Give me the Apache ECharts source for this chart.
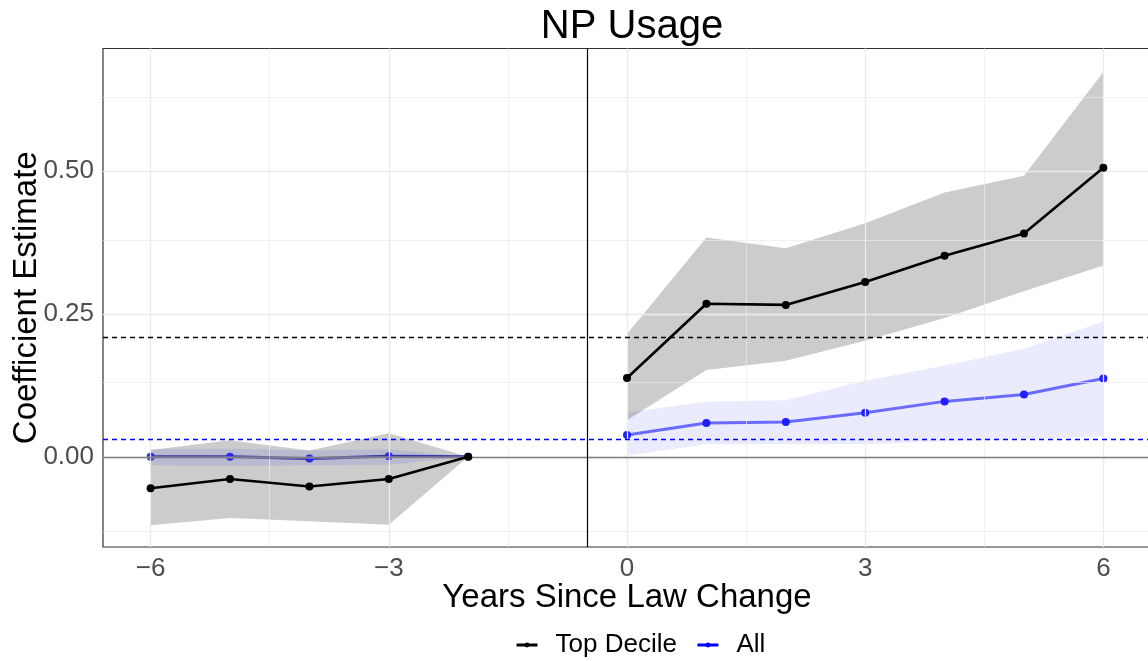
<!DOCTYPE html>
<html>
<head>
<meta charset="utf-8">
<script src="https://cdn.jsdelivr.net/npm/echarts@6/dist/echarts.min.js"></script>
<style>
  html, body { margin: 0; padding: 0; background: #fff; }
  #chart { width: 1148px; height: 661px; }
</style>
</head>
<body>
<div id="chart"></div>
<script>
// Event-study estimates: years relative to the law change
const yearsPre  = [-6, -5, -4, -3, -2];
const yearsPost = [0, 1, 2, 3, 4, 5, 6];

// Top decile: point estimates and confidence bounds
const topPre     = [-0.055, -0.039, -0.052, -0.039, 0];
const topPreLo   = [-0.120, -0.107, -0.113, -0.119, 0];
const topPreHi   = [ 0.012,  0.029,  0.011,  0.041, 0];
const topPost    = [0.138, 0.268, 0.266, 0.306, 0.352, 0.391, 0.506];
const topPostLo  = [0.064, 0.152, 0.168, 0.203, 0.243, 0.290, 0.335];
const topPostHi  = [0.215, 0.384, 0.365, 0.409, 0.463, 0.492, 0.674];

// All: point estimates and confidence bounds
const allPre     = [0.000, 0.000, -0.003, 0.001, 0];
const allPreLo   = [-0.015, -0.016, -0.015, -0.014, 0];
const allPreHi   = [0.013, 0.014, 0.011, 0.013, 0];
const allPost    = [0.038, 0.059, 0.061, 0.077, 0.097, 0.109, 0.137];
const allPostLo  = [0.002, 0.022, 0.022, 0.022, 0.027, 0.031, 0.036];
const allPostHi  = [0.077, 0.097, 0.099, 0.133, 0.160, 0.189, 0.237];

// Reference levels
const topRef = 0.207;
const allRef = 0.032;
const lawLine = -0.5;

// Axis ticks and grid lines
const xTicks = [-6, -3, 0, 3, 6];
const xMinor = [-4.5, -1.5, 1.5, 4.5];
const yTicks = [0, 0.25, 0.5];
const yMinor = [-0.125, 0.125, 0.375, 0.625];

const FONT = '"Liberation Sans", Arial, Helvetica, sans-serif';

const zip = (xs, ys) => xs.map((x, i) => [x, ys[i]]);
const band = (xs, lo, hi) => xs.map((x, i) => [x, lo[i], hi[i]]);

// Ribbon drawn as one polygon through the axis scales
function ribbon(name, rows, fill, z) {
  return {
    type: 'custom',
    name: name + ' band',
    z: z,
    silent: true,
    clip: true,
    data: rows,
    encode: { x: 0, y: [1, 2] },
    renderItem: function (params, api) {
      if (params.dataIndex !== 0) return null;
      const upper = rows.map(r => api.coord([r[0], r[2]]));
      const lower = rows.slice().reverse().map(r => api.coord([r[0], r[1]]));
      return {
        type: 'polygon',
        shape: { points: upper.concat(lower) },
        style: { fill: fill }
      };
    }
  };
}

function lineSeries(name, data, lineColor, pointColor, width, z) {
  return {
    type: 'line',
    name: name,
    data: data,
    z: z,
    symbol: 'circle',
    symbolSize: 8,
    showSymbol: true,
    lineStyle: { color: lineColor, width: width },
    itemStyle: { color: pointColor, borderWidth: 0 },
    emphasis: { disabled: true },
    silent: true
  };
}

function hLine(v, color, width, type) {
  return { yAxis: v, lineStyle: { color: color, width: width, type: type } };
}
function vLine(v, color, width) {
  return { xAxis: v, lineStyle: { color: color, width: width, type: 'solid' } };
}

const gridLines = []
  .concat(yMinor.map(v => hLine(v, '#EBEBEB', 0.7, 'solid')))
  .concat(xMinor.map(v => vLine(v, '#EBEBEB', 0.7)))
  .concat(yTicks.map(v => hLine(v, '#EBEBEB', 1.3, 'solid')))
  .concat(xTicks.map(v => vLine(v, '#EBEBEB', 1.3)));

const refLines = [
  hLine(0, '#7F7F7F', 1.4, 'solid'),
  vLine(lawLine, '#000000', 1.2),
  hLine(topRef, '#000000', 1.3, [5, 4]),
  hLine(allRef, '#0000FF', 1.3, [5, 4])
];

const chart = echarts.init(document.getElementById('chart'), null, { renderer: 'canvas' });

chart.setOption({
  animation: false,
  backgroundColor: '#ffffff',
  title: {
    text: 'NP Usage',
    left: 627,
    textAlign: 'center',
    top: 2,
    textStyle: { fontFamily: FONT, fontSize: 40, fontWeight: 'normal', color: '#000' }
  },
  legend: {
    data: [
      { name: 'Top Decile', itemStyle: { color: '#000' }, lineStyle: { color: '#000', width: 3 } },
      { name: 'All', itemStyle: { color: '#0000FF' }, lineStyle: { color: '#0000FF', width: 3 } }
    ],
    left: 510,
    top: 627,
    itemWidth: 21,
    itemHeight: 6,
    itemGap: 19,
    selectedMode: false,
    textStyle: { fontFamily: FONT, fontSize: 26, color: '#000', padding: [0, 0, 0, 13] }
  },
  grid: {
    left: 103,
    right: -3,
    top: 48.5,
    bottom: 114,
    containLabel: false,
    outerBoundsMode: 'none',
    show: true,
    borderColor: '#333333',
    borderWidth: 1.2,
    backgroundColor: 'transparent'
  },
  xAxis: {
    type: 'value',
    min: -6.6,
    max: 6.6,
    name: 'Years Since Law Change',
    nameLocation: 'middle',
    nameGap: 34,
    nameMoveOverlap: false,
    nameTextStyle: { fontFamily: FONT, fontSize: 33, color: '#000' },
    splitLine: { show: false },
    axisLine: { show: false },
    axisTick: { show: true, customValues: xTicks, length: 5, lineStyle: { color: '#333', width: 1.1 } },
    axisLabel: {
      customValues: xTicks,
      margin: 9,
      fontFamily: FONT, fontSize: 26, color: '#4D4D4D',
      formatter: v => (v < 0 ? '\u2212' + Math.abs(v) : String(v))
    }
  },
  yAxis: {
    type: 'value',
    min: -0.158,
    max: 0.715,
    name: 'Coefficient Estimate',
    nameLocation: 'middle',
    nameGap: 60,
    nameMoveOverlap: false,
    nameTextStyle: { fontFamily: FONT, fontSize: 33, color: '#000' },
    splitLine: { show: false },
    axisLine: { show: false },
    axisTick: { show: true, customValues: yTicks, length: 5, lineStyle: { color: '#333', width: 1.1 } },
    axisLabel: {
      customValues: yTicks,
      margin: 9,
      fontFamily: FONT, fontSize: 26, color: '#4D4D4D',
      formatter: v => v.toFixed(2)
    }
  },
  series: [
    {
      type: 'line',
      name: 'grid',
      data: [],
      z: 0,
      silent: true,
      markLine: { silent: true, symbol: 'none', label: { show: false }, animation: false, data: gridLines }
    },
    ribbon('Top Decile', band(yearsPre, topPreLo, topPreHi), 'rgba(0,0,0,0.2)', 1),
    ribbon('Top Decile', band(yearsPost, topPostLo, topPostHi), 'rgba(0,0,0,0.2)', 1),
    ribbon('All', band(yearsPre, allPreLo, allPreHi), 'rgba(0,0,255,0.09)', 2),
    ribbon('All', band(yearsPost, allPostLo, allPostHi), 'rgba(0,0,255,0.08)', 2),
    {
      type: 'line',
      name: 'reference',
      data: [],
      z: 3,
      silent: true,
      markLine: { silent: true, symbol: 'none', label: { show: false }, animation: false, data: refLines }
    },
    lineSeries('Top Decile', zip(yearsPost, topPost), '#000000', '#000000', 2.6, 5),
    lineSeries('Top Decile', zip(yearsPre, topPre), '#000000', '#000000', 2.6, 5),
    lineSeries('All', zip(yearsPost, allPost), 'rgba(0,0,255,0.55)', '#1F1FFF', 3, 4),
    lineSeries('All', zip(yearsPre, allPre), '#3434A6', '#2A2AE0', 3, 4)
  ]
});
</script>
</body>
</html>
